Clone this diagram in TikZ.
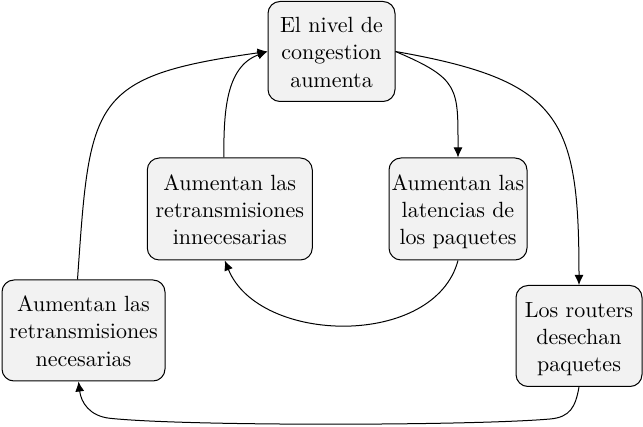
\documentclass[tikz,border=0pt]{standalone}
\usepackage{graphicx}
\usetikzlibrary{arrows.meta}
\renewcommand{\arraystretch}{1.04}
\newcommand{\bxtext}[1]{\raisebox{-8.5pt}[0pt][0pt]{\scalebox{2.2}{\begin{tabular}{@{}c@{}}#1\end{tabular}}}}
\tikzset{
  box/.style={draw=black, line width=1pt, fill=black!5, rounded corners=12pt,
    inner sep=0pt, align=center},
  arr/.style={line width=1pt, -{Latex[length=10pt,width=9pt]}}
}
\begin{document}
\begin{tikzpicture}[x=1pt,y=1pt]
\useasboundingbox (0,0) rectangle (643,-427);
\node[box, minimum width=127pt, minimum height=100pt] (top) at (331.5,-51.5)
  {\bxtext{El nivel de\\congestion\\aumenta}};
\node[box, minimum width=165pt, minimum height=102pt] (innec) at (229.8,-209)
  {\bxtext{Aumentan las\\retransmisiones\\innecesarias}};
\node[box, minimum width=138pt, minimum height=102pt] (lat) at (458,-209)
  {\bxtext{Aumentan las\\latencias de\\los paquetes}};
\node[box, minimum width=163pt, minimum height=101pt] (nec) at (83.5,-330.5)
  {\bxtext{Aumentan las\\retransmisiones\\necesarias}};
\node[box, minimum width=126pt, minimum height=101pt] (rout) at (579,-336)
  {\bxtext{Los routers\\desechan\\paquetes}};
\coordinate (br) at (550,-419);
\coordinate (bl) at (110,-418.3);
\draw[arr] (top.east) to[out=-23,in=90,looseness=1.45] (lat.north);
\draw[arr] (top.east) to[out=-10,in=90,looseness=1.45] (rout.north);
\draw[arr] (lat.south) to[out=-105,in=-68] ([xshift=-5pt]innec.south);
\draw[arr] ([xshift=-6pt]innec.north) to[out=90,in=200] (top.west);
\draw[arr] (rout.south) to[out=-100,in=5,looseness=1.2] (br)
  to[out=185,in=-6,looseness=0.45] (bl)
  to[out=174,in=-83,looseness=1.1] ([xshift=-5pt]nec.south);
\draw[arr] ([xshift=-6pt]nec.north) to[out=86,in=188,looseness=1.55] (top.west);
\end{tikzpicture}
\end{document}
